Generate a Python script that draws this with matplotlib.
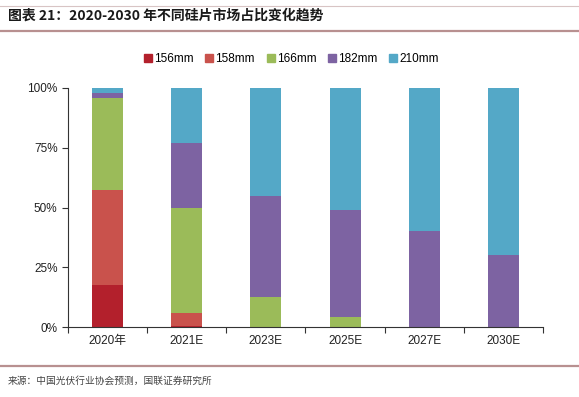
import matplotlib
matplotlib.use("Agg")
import matplotlib.pyplot as plt
import numpy as np
from matplotlib.lines import Line2D
from matplotlib.ticker import FixedLocator, PercentFormatter

plt.rcParams['font.family'] = ['Liberation Sans', 'Noto Sans CJK SC', 'DejaVu Sans']

categories = ["2020年", "2021E", "2023E", "2025E", "2027E", "2030E"]
series_names = ["156mm", "158mm", "166mm", "182mm", "210mm"]
s156 = [17.5, 0.5, 0, 0, 0, 0]
s158 = [40.0, 5.5, 0, 0, 0, 0]
s166 = [38.3, 44.0, 12.5, 4.0, 0, 0]
s182 = [2.2, 27.0, 42.5, 45.0, 40.0, 30.0]
s210 = [2.0, 23.0, 45.0, 51.0, 60.0, 70.0]
values = [s156, s158, s166, s182, s210]
colors = ["#B3202C", "#C9524C", "#9BBB59", "#7D63A2", "#54A8C7"]

fig = plt.figure(figsize=(5.79, 3.97), dpi=100)
W, H = 579, 397
ax = fig.add_axes([68 / W, 1 - 327 / H, 475 / W, 239 / H])

x = np.arange(len(categories))
bottom = np.zeros(len(categories))
for name, vals, c in zip(series_names, values, colors):
    v = np.array(vals, dtype=float)
    ax.bar(x, v, bottom=bottom, width=0.39, color=c, label=name, zorder=2)
    bottom += v

ax.set_xlim(-0.5, len(categories) - 0.5)
ax.set_ylim(0, 100)
ax.yaxis.set_major_locator(FixedLocator([0, 25, 50, 75, 100]))
ax.yaxis.set_major_formatter(PercentFormatter(decimals=0))
ax.set_xticks(x)
ax.set_xticklabels(categories)
ax.xaxis.set_minor_locator(FixedLocator(np.arange(-0.5, len(categories), 1.0)))
ax.tick_params(axis='x', which='major', length=0, pad=6, labelsize=8.5, colors='#222222')
ax.tick_params(axis='x', which='minor', length=4, width=0.8, color='#333333')
ax.tick_params(axis='y', which='major', length=4, width=0.8, labelsize=8.5, colors='#222222', direction='out')
ax.tick_params(axis='y', colors='#333333', labelcolor='#222222')
for s in ['top', 'right']:
    ax.spines[s].set_visible(False)
for s in ['left', 'bottom']:
    ax.spines[s].set_color('#333333')
    ax.spines[s].set_linewidth(0.8)
for lbl in ax.get_xticklabels():
    if '年' in lbl.get_text():
        lbl.set_family(['Liberation Sans', 'Noto Sans CJK SC'])

handles = [Line2D([], [], marker='s', linestyle='none', markersize=5.5,
                  markerfacecolor=c, markeredgecolor=c) for c in colors]
fig.legend(handles, series_names, loc='center', bbox_to_anchor=(291 / W, 1 - 59 / H),
           ncol=5, frameon=False, fontsize=8.5, handletextpad=0.1, columnspacing=0.95,
           handlelength=0.8)

# title & decoration
fig.text(8 / W, 1 - 16 / H, "图表 21：2020-2030 年不同硅片市场占比变化趋势",
         family=['Noto Sans CJK SC'], fontweight='bold', fontsize=10, color='#1a1a1a',
         va='center', ha='left', style='italic')
fig.add_artist(Line2D([0, 1], [1 - 6 / H, 1 - 6 / H], transform=fig.transFigure,
                      color='#D8C4C4', linewidth=0.8))
fig.add_artist(Line2D([0, 1], [1 - 31 / H, 1 - 31 / H], transform=fig.transFigure,
                      color='#B89090', linewidth=1.6))
fig.add_artist(Line2D([0, 1], [1 - 366 / H, 1 - 366 / H], transform=fig.transFigure,
                      color='#B89090', linewidth=1.6))
fig.text(8 / W, 1 - 381 / H, "来源：中国光伏行业协会预测，国联证券研究所",
         family=['Noto Sans CJK SC'], fontsize=7, color='#444444', va='center', ha='left')

fig.savefig("out.png", dpi=100, facecolor='white')
